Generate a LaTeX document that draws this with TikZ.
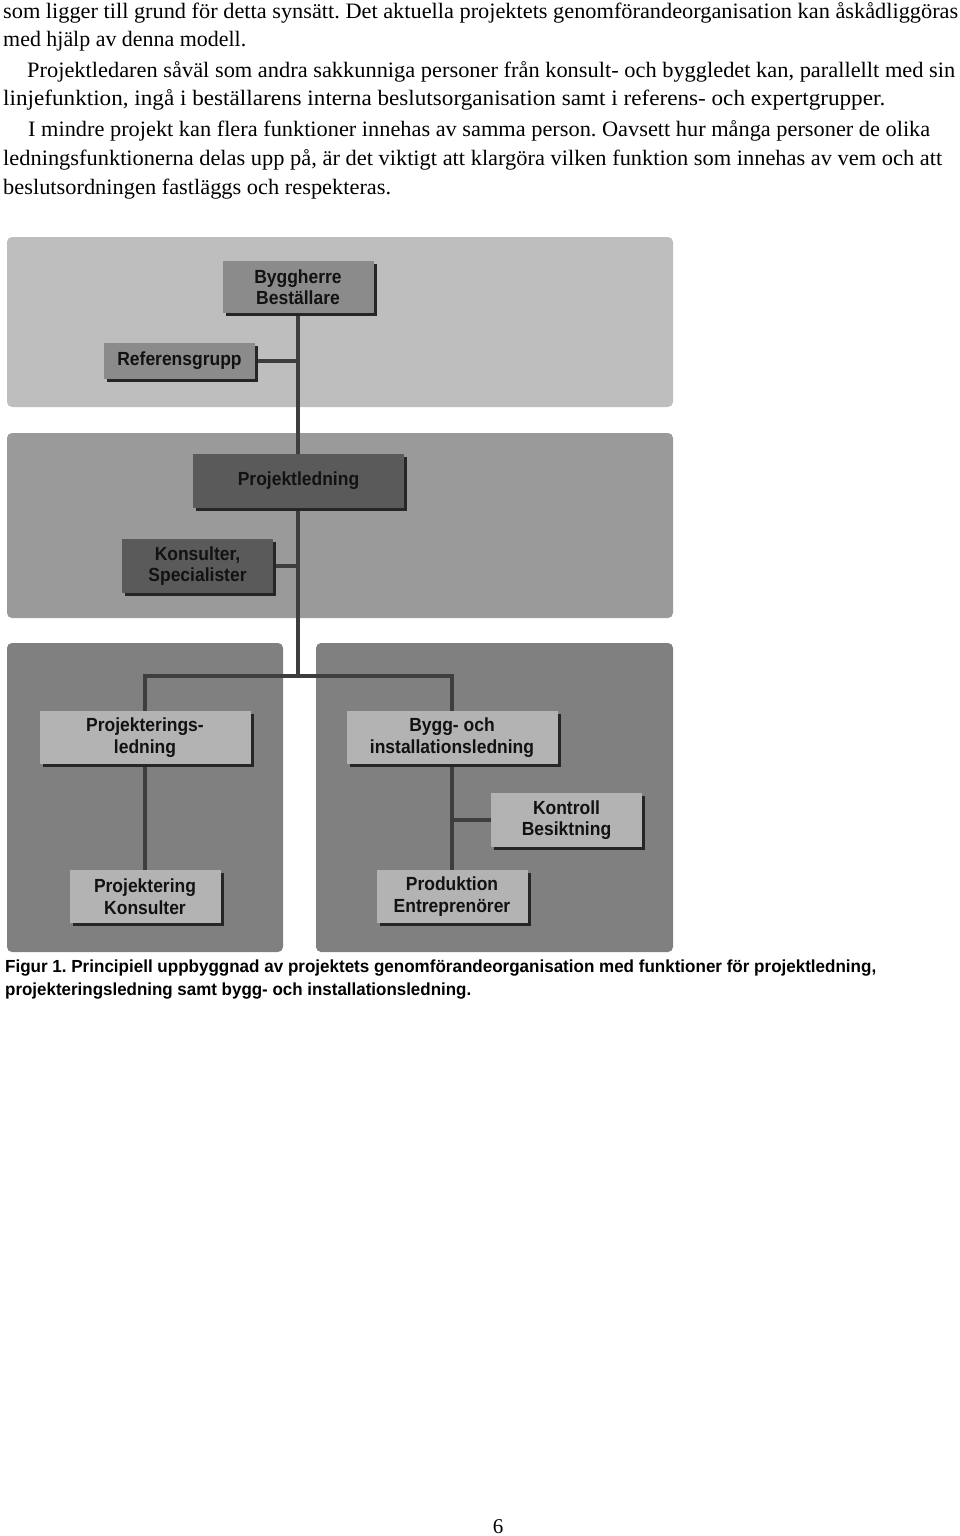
\documentclass[tikz,border=0pt]{standalone}
\usepackage{fontspec}
\setmainfont{Liberation Serif}
\newfontfamily\sansfont{Liberation Sans}
\newfontfamily\boxfont[FakeStretch=0.92]{Liberation Sans}
\usetikzlibrary{shadows,calc}
\pgfdeclarelayer{panels}
\pgfdeclarelayer{background}
\pgfsetlayers{panels,background,main}
\definecolor{panelA}{HTML}{BEBEBE}
\definecolor{panelB}{HTML}{9A9A9A}
\definecolor{panelC}{HTML}{808080}
\definecolor{boxA}{HTML}{8B8B8B}
\definecolor{boxB}{HTML}{5A5A5A}
\definecolor{boxC}{HTML}{B3B3B3}
\definecolor{connC}{HTML}{3E3E3E}
\definecolor{boxtext}{HTML}{121212}
\newlength\fitlen
\newcommand\fitline[2]{\settowidth\fitlen{#2}\pgfmathsetmacro\fitr{#1/\fitlen}\scalebox{\fitr}[1]{#2}}
\frenchspacing
\tikzset{
  bodyline/.style={anchor=base west, inner sep=0pt, font=\fontsize{22}{26}\selectfont},
  capline/.style={anchor=base west, inner sep=0pt, font=\sansfont\bfseries\fontsize{17.5}{21}\selectfont},
  panel/.style={rounded corners=5pt},
  orgbox/.style={rectangle, inner sep=0pt, align=center, text=boxtext,
    font=\boxfont\bfseries\fontsize{19}{21.5}\selectfont,
    drop shadow={shadow xshift=3pt, shadow yshift=-3pt, fill=black!85, opacity=1}},
  conn/.style={draw=connC, line width=3.5pt}
}
\begin{document}
\begin{tikzpicture}[x=1pt,y=-1pt]
\useasboundingbox (0,0) rectangle (960,1536);
\begin{pgfonlayer}{panels}
\fill[white] (0,0) rectangle (960,1536);
\end{pgfonlayer}
% body text
\node[bodyline] (t1) at (3,19) {\fitline{955}{som ligger till grund för detta synsätt. Det aktuella projektets genomförandeorganisation kan åskådliggöras}};
\node[bodyline] (t2) at (3,47) {\fitline{243}{med hjälp av denna modell.}};
\node[bodyline] (t3) at (27,78) {\fitline{928}{Projektledaren såväl som andra sakkunniga personer från konsult- och byggledet kan, parallellt med sin}};
\node[bodyline] (t4) at (3,106) {\fitline{882}{linjefunktion, ingå i beställarens interna beslutsorganisation samt i referens- och expertgrupper.}};
\node[bodyline] (t5) at (28,136) {\fitline{902}{I mindre projekt kan flera funktioner innehas av samma person. Oavsett hur många personer de olika}};
\node[bodyline] (t6) at (3,165) {\fitline{939}{ledningsfunktionerna delas upp på, är det viktigt att klargöra vilken funktion som innehas av vem och att}};
\node[bodyline] (t7) at (3,194) {\fitline{388}{beslutsordningen fastläggs och respekteras.}};
% panels
\begin{pgfonlayer}{panels}
\fill[panel, panelA] (7,237) rectangle (673,407);
\fill[panel, panelB] (7,433) rectangle (673,618);
\fill[panel, panelC] (7,643) rectangle (283,952);
\fill[panel, panelC] (316,643) rectangle (673,952);
\end{pgfonlayer}
% boxes
\node[orgbox, fill=boxA, minimum width=151pt, minimum height=52pt] (bh) at (298,287) {Byggherre\\Beställare};
\node[orgbox, fill=boxA, minimum width=151pt, minimum height=36pt] (rg) at (179.5,361) {Referensgrupp};
\node[orgbox, fill=boxB, minimum width=211pt, minimum height=54pt] (pl) at (298.5,481) {Projektledning};
\node[orgbox, fill=boxB, minimum width=151pt, minimum height=54pt] (ks) at (197.5,566) {Konsulter,\\Specialister};
\node[orgbox, fill=boxC, minimum width=211pt, minimum height=53pt] (pj) at (145,737.5) {Projekterings-\\ledning};
\node[orgbox, fill=boxC, minimum width=211pt, minimum height=53pt] (bi) at (452,737.5) {Bygg- och\\installationsledning};
\node[orgbox, fill=boxC, minimum width=151pt, minimum height=54pt] (kb) at (566.5,820) {Kontroll\\Besiktning};
\node[orgbox, fill=boxC, minimum width=151pt, minimum height=53pt] (pk) at (145,896.5) {Projektering\\Konsulter};
\node[orgbox, fill=boxC, minimum width=151pt, minimum height=53pt] (pe) at (452,896.5) {Produktion\\Entreprenörer};
\coordinate (bar) at (298,676);
% connectors
\begin{pgfonlayer}{background}
\draw[conn] (bh.south) -- (bar);
\draw[conn] (rg.east) -- (rg.east -| bh.south);
\draw[conn] (ks.east) -- (ks.east -| bh.south);
\draw[conn] (pj.north) |- (bar) -| (bi.north);
\draw[conn] (pj.south) -- (pk.north);
\draw[conn] (bi.south) -- (pe.north);
\draw[conn] (kb.west) -- (kb.west -| bi.south);
\end{pgfonlayer}
% caption
\node[capline] (c1) at (5,972) {\fitline{871}{Figur 1. Principiell uppbyggnad av projektets genomförandeorganisation med funktioner för projektledning,}};
\node[capline] (c2) at (5,995) {\fitline{466}{projekteringsledning samt bygg- och installationsledning.}};
% page number
\node[anchor=base, inner sep=0pt, font=\fontsize{21}{25}\selectfont] (pn) at (498,1533) {6};
\end{tikzpicture}
\end{document}
